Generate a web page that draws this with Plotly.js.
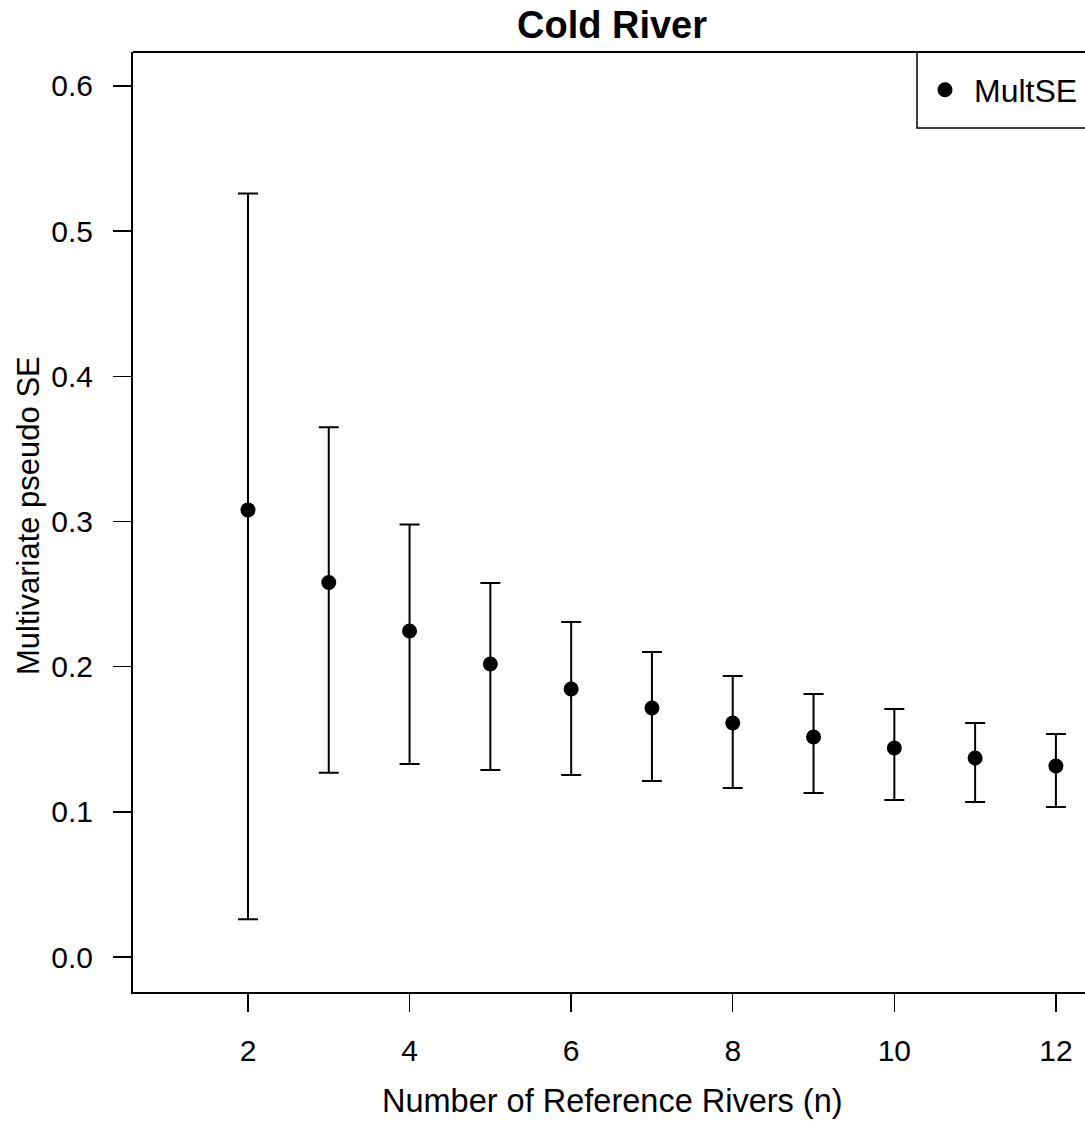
<!DOCTYPE html>
<html>
<head>
<meta charset="utf-8">
<script src="https://cdn.plot.ly/plotly-3.0.1.min.js"></script>
<style>
html, body { margin: 0; padding: 0; background: #fff; overflow: hidden; }
#chart { width: 1085px; height: 1122px; }
</style>
</head>
<body>
<div id="chart"></div>
<script>
const chartTitle = "Cold River";
const xLabel = "Number of Reference Rivers (n)";
const yLabel = "Multivariate pseudo SE";
const seriesName = "MultSE";

const nRivers = [2, 3, 4, 5, 6, 7, 8, 9, 10, 11, 12];
const multSE  = [0.308, 0.258, 0.2246, 0.2018, 0.1846, 0.1715, 0.1612, 0.1515, 0.1440, 0.1371, 0.1316];
const upperCI = [0.526, 0.365, 0.298, 0.2576, 0.2308, 0.2101, 0.1936, 0.1812, 0.1708, 0.1612, 0.1536];
const lowerCI = [0.026, 0.127, 0.133, 0.1288, 0.1254, 0.1212, 0.1164, 0.1130, 0.1081, 0.1068, 0.1033];

const xTicks = [2, 4, 6, 8, 10, 12];
const yTicks = [0.0, 0.1, 0.2, 0.3, 0.4, 0.5, 0.6];

const errPlus = upperCI.map((u, i) => u - multSE[i]);
const errMinus = multSE.map((m, i) => m - lowerCI[i]);

const FONT = "Liberation Sans, Arial, Helvetica, sans-serif";
const PW = 952, PH = 940, L = 133, T = 52;
const px = x => (x - L) / PW;
const py = y => (T + PH - y) / PH;

const trace = {
  x: nRivers,
  y: multSE,
  type: "scatter",
  mode: "markers",
  name: seriesName,
  marker: { color: "#000", size: 15, symbol: "circle" },
  error_y: {
    type: "data",
    symmetric: false,
    array: errPlus,
    arrayminus: errMinus,
    color: "#000",
    thickness: 2,
    width: 10
  },
  cliponaxis: false,
  hoverinfo: "x+y"
};

const layout = {
  width: 1085,
  height: 1122,
  margin: { l: L, r: 0, t: T, b: 130, pad: 0 },
  paper_bgcolor: "#fff",
  plot_bgcolor: "#fff",
  font: { family: FONT, size: 30, color: "#000" },
  showlegend: true,
  legend: {
    x: px(916), y: py(90), xanchor: "left", yanchor: "middle",
    borderwidth: 0, bgcolor: "rgba(0,0,0,0)",
    itemwidth: 48,
    font: { family: FONT, size: 32, color: "#000" }
  },
  xaxis: {
    range: [0.577, 12.36],
    tickmode: "array",
    tickvals: xTicks,
    ticktext: xTicks.map(String),
    ticks: "outside", ticklen: 18, tickwidth: 1.5, tickcolor: "#000",
    ticklabelstandoff: 13,
    showgrid: false, zeroline: false,
    showline: true, linecolor: "#000", linewidth: 2,
    tickfont: { family: FONT, size: 30, color: "#000" }
  },
  yaxis: {
    range: [-0.0241, 0.6234],
    tickmode: "array",
    tickvals: yTicks,
    ticktext: yTicks.map(v => v.toFixed(1)),
    ticks: "outside", ticklen: 18, tickwidth: 1.5, tickcolor: "#000",
    ticklabelstandoff: 14,
    showgrid: false, zeroline: false,
    showline: true, linecolor: "#000", linewidth: 2,
    tickfont: { family: FONT, size: 30, color: "#000" }
  },
  shapes: [
    { type: "line", xref: "paper", yref: "paper", x0: 0, x1: 1, y0: 1, y1: 1,
      line: { color: "#000", width: 2 } },
    { type: "rect", xref: "paper", yref: "paper", x0: px(917), x1: 1.05, y0: py(128), y1: 1,
      line: { color: "#000", width: 1.5 }, fillcolor: "rgba(0,0,0,0)", layer: "above" }
  ],
  annotations: [
    { text: "<b>" + chartTitle + "</b>", xref: "paper", yref: "paper",
      x: px(612), y: py(25), xanchor: "center", yanchor: "middle",
      showarrow: false, font: { family: FONT, size: 38, color: "#000" } },
    { text: xLabel, xref: "paper", yref: "paper",
      x: px(612), y: py(1101), xanchor: "center", yanchor: "middle",
      showarrow: false, font: { family: FONT, size: 32.5, color: "#000" } },
    { text: yLabel, xref: "paper", yref: "paper", textangle: -90,
      x: px(28), y: py(516), xanchor: "center", yanchor: "middle",
      showarrow: false, font: { family: FONT, size: 31, color: "#000" } }
  ]
};

Plotly.newPlot("chart", [trace], layout, { displayModeBar: false, staticPlot: true });
</script>
</body>
</html>
